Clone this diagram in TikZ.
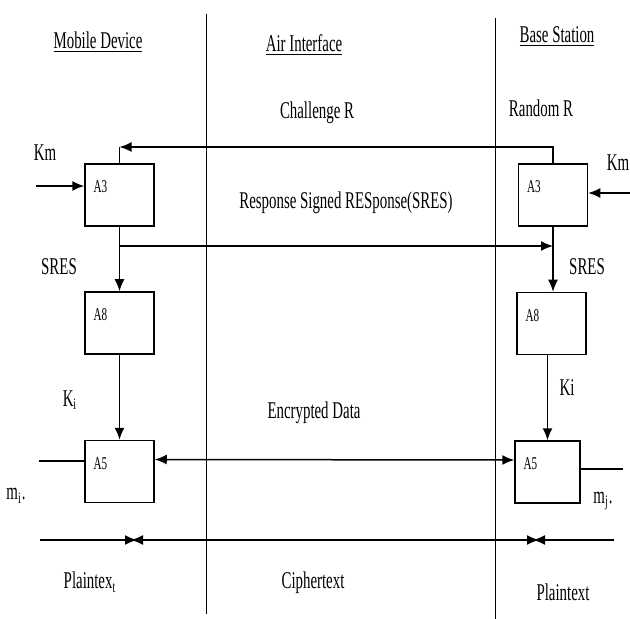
\documentclass[tikz,border=0pt]{standalone}
\usepackage{fontspec}
\setmainfont{Liberation Serif}[FakeStretch=0.62]
\usetikzlibrary{arrows.meta}

\begin{document}
\begin{tikzpicture}[x=0.5pt, y=-0.5pt, >={Latex[length=6pt,width=5pt]},
    line width=0.75pt,
    caja/.style={draw, minimum width=34.5pt, minimum height=31pt, inner sep=0pt},
    etiq/.style={font=\fontsize{12}{14}\selectfont},
    alg/.style={label={[anchor=north west, xshift=1pt, yshift=-5pt, font=\fontsize{9}{10}\selectfont]north west:#1}}]

    \useasboundingbox (0,0) rectangle (630,619);

    % 1. Separadores verticales
    \coordinate (sepA) at (206,14);
    \coordinate (sepB) at (206,614);
    \coordinate (sepC) at (495,18);
    \coordinate (sepD) at (495,619);
    \draw[line width=0.45pt] (sepA) -- (sepB);
    \draw[line width=0.45pt] (sepC) -- (sepD);

    % 2. Titulos
    \node[etiq] (tMovil) at (98,42) {\underline{Mobile Device}};
    \node[etiq] (tAire) at (304,45) {\underline{Air Interface}};
    \node[etiq] (tBase) at (557,37) {\underline{Base Station}};

    % 3. Cajas del movil
    \node[caja, alg=A3] (mA3) at (119.5,195) {};
    \node[caja, alg=A8] (mA8) at (119.5,323) {};
    \node[caja, alg=A5] (mA5) at (119.5,471.5) {};

    % 4. Cajas de la estacion base
    \node[caja, alg=A3] (bA3) at (553,195) {};
    \node[caja, alg=A8] (bA8) at (551.5,323.5) {};
    \node[caja, minimum width=32.5pt, alg=A5] (bA5) at (547.5,472) {};

    % 5. Reto
    \node[etiq] (lReto) at (317,113) {Challenge R};
    \node[etiq] (lAzar) at (541,108) {Random R};
    \coordinate (reto) at (119.5,147);
    \draw (mA3.north) -- (reto);
    \draw[->] (bA3.north) |- (reto);

    % 6. Claves Km
    \node[etiq] (lKmM) at (45,153) {Km};
    \node[etiq] (lKmB) at (618,163) {Km};
    \coordinate (kmM) at (36,186);
    \coordinate (kmB) at (630,193);
    \draw[->] (kmM) -- (mA3.west |- kmM);
    \draw[->] (kmB) -- (bA3.east |- kmB);

    % 7. Respuesta SRES
    \node[etiq] (lResp) at (346,203) {Response Signed RESponse(SRES)};
    \coordinate (respM) at (119.5,246);
    \coordinate (respB) at (553,246);
    \draw[->] (mA3.south) -- (mA8.north);
    \draw[->] (respM) -- (respB);
    \draw[->] (bA3.south) -- (bA3.south |- bA8.north);
    \node[etiq] (lSresM) at (59,267) {SRES};
    \node[etiq] (lSresB) at (587,267) {SRES};

    % 8. Clave Ki
    \node[etiq] (lKiM) at (70,400) {K\textsubscript{i}};
    \node[etiq] (lKiB) at (567,388) {Ki};
    \draw[->] (mA8.south) -- (mA5.north);
    \draw[->] (bA5.north |- bA8.south) -- (bA5.north);

    % 9. Datos cifrados
    \node[etiq] (lCifr) at (314,413) {Encrypted Data};
    \draw[<->] ([yshift=6pt]mA5.east) -- ([yshift=6pt]bA5.west);

    % 10. Mensajes
    \coordinate (miEnt) at (39,461);
    \coordinate (mjSal) at (623,469);
    \draw (miEnt) -- (mA5.west |- miEnt);
    \draw (bA5.east |- mjSal) -- (mjSal);
    \node[etiq] (lMi) at (16,496) {m\textsubscript{i}.};
    \node[etiq] (lMj) at (603,501) {m\textsubscript{j}.};

    % 11. Linea inferior
    \coordinate (plM) at (40,540);
    \coordinate (lazoM) at (134,540);
    \coordinate (lazoB) at (536,540);
    \coordinate (plB) at (614,540);
    \draw[->, shorten >=-1.5pt] (plM) -- (lazoM);
    \draw[<->, shorten <=-1.5pt, shorten >=-1.5pt] (lazoM) -- (lazoB);
    \draw[<-, shorten <=-1.5pt] (lazoB) -- (plB);

    % 12. Textos de abajo
    \node[etiq] (lPlM) at (90,582) {Plaintex\textsubscript{t}};
    \node[etiq] (lCiph) at (313,583) {Ciphertext};
    \node[etiq] (lPlB) at (563,592) {Plaintext};

\end{tikzpicture}
\end{document}
